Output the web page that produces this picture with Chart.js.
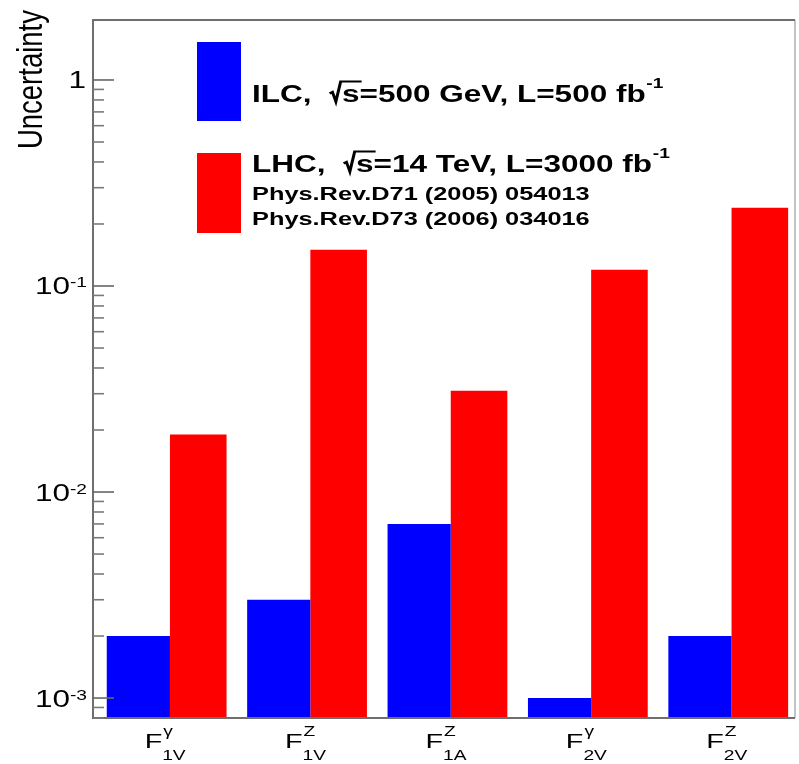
<!DOCTYPE html>
<html><head><meta charset="utf-8">
<script src="https://cdn.jsdelivr.net/npm/chart.js@4.4.1/dist/chart.umd.min.js"></script>
<style>html,body{margin:0;padding:0;background:#fff;overflow:hidden}#wrap{width:799px;height:764px;position:relative}</style>
</head><body><div id="wrap"><canvas id="c"></canvas></div>
<script>
// ---- data ----
const categoryMain = ['F', 'F', 'F', 'F', 'F'];
const categorySup  = ['γ', 'Z', 'Z', 'γ', 'Z'];
const categorySub  = ['1V', '1V', '1A', '2V', '2V'];
const ilcValues = [0.002, 0.003, 0.007, 0.001, 0.002];
const lhcValues = [0.019, 0.15, 0.031, 0.12, 0.24];
const yMajorTicks = [0.001, 0.01, 0.1, 1];
const yMajorLabels = [['10', '-3'], ['10', '-2'], ['10', '-1'], ['1', '']];
const ilcLabel = 'ILC';
const lhcLabel = 'LHC';
const lhcRefs = ['Phys.Rev.D71 (2005) 054013', 'Phys.Rev.D73 (2006) 034016'];
const yTitle = 'Uncertainty';

// ---- layout / style constants ----
const ILC_OFFSET = 0.323, LHC_OFFSET = 0.7496;
const FONT = '"Liberation Sans", Arial, Helvetica, sans-serif';
const SX = 1.37; // horizontal stretch of the reference's lettering

const ilcData = ilcValues.map((v, i) => ({x: i + ILC_OFFSET, y: v}));
const lhcData = lhcValues.map((v, i) => ({x: i + LHC_OFFSET, y: v}));

function stretchedText(ctx, text, x, y, font, align, sx) {
  ctx.save();
  ctx.font = font;
  const w = ctx.measureText(text).width * sx;
  let x0 = x;
  if (align === 'right') x0 = x - w; else if (align === 'center') x0 = x - w / 2;
  ctx.translate(x0, y);
  ctx.scale(sx, 1);
  ctx.textAlign = 'left';
  ctx.fillText(text, 0, 0);
  ctx.restore();
  return w;
}

function drawRadicalLine(ctx, x, by, sx, font, before, sVar, after, sup, supFont, supDy) {
  ctx.save();
  ctx.translate(x, by);
  ctx.scale(sx, 1);
  ctx.textAlign = 'left';
  ctx.font = font;
  let lx = 0;
  ctx.fillText(before, lx, 0);
  lx += ctx.measureText(before).width;
  const sw = ctx.measureText(sVar).width;
  ctx.lineWidth = 2.2;
  ctx.lineJoin = 'miter';
  ctx.beginPath();
  ctx.moveTo(lx + 0.5, -8);
  ctx.lineTo(lx + 2.5, -9.5);
  ctx.lineTo(lx + 5, 0);
  ctx.lineTo(lx + 8.5, -20);
  ctx.lineTo(lx + 9.5 + sw + 1.5, -20);
  ctx.stroke();
  lx += 9.5;
  ctx.fillText(sVar, lx, 0);
  lx += sw;
  ctx.fillText(after, lx, 0);
  lx += ctx.measureText(after).width;
  ctx.font = supFont;
  ctx.fillText(sup, lx + 0.5, supDy);
  ctx.restore();
}

const rootPlugin = {
  id: 'rootStyle',
  afterDraw(chart) {
    const ctx = chart.ctx;
    const ca = chart.chartArea;
    const ys = chart.scales.y, xs = chart.scales.x;
    ctx.save();
    // frame
    ctx.lineWidth = 2;
    ctx.strokeStyle = '#c4c4c4';
    ctx.beginPath(); ctx.moveTo(ca.right, ca.top); ctx.lineTo(ca.right, ca.bottom); ctx.stroke();
    ctx.strokeStyle = '#6e6e6e';
    ctx.beginPath();
    ctx.moveTo(ca.right, ca.top); ctx.lineTo(ca.left, ca.top); ctx.lineTo(ca.left, ca.bottom); ctx.lineTo(ca.right, ca.bottom);
    ctx.stroke();
    // y ticks inside the frame
    ctx.lineWidth = 1.6;
    ys.ticks.forEach(t => {
      const p = ys.getPixelForValue(t.value);
      if (p < ca.top - 0.5 || p > ca.bottom + 0.5) return;
      const major = yMajorTicks.some(m => Math.abs(m - t.value) / m < 1e-6);
      ctx.strokeStyle = major ? '#666' : '#7a7a7a';
      ctx.beginPath(); ctx.moveTo(ca.left, p); ctx.lineTo(ca.left + (major ? 21 : 11), p); ctx.stroke();
    });
    // y labels
    ctx.fillStyle = '#000';
    ctx.textBaseline = 'alphabetic';
    const mainF = '23px ' + FONT, supF = '14px ' + FONT;
    yMajorTicks.forEach((v, i) => {
      const p = ys.getPixelForValue(v);
      const [main, sup] = yMajorLabels[i];
      ctx.font = mainF;
      const w1 = ctx.measureText(main).width * SX;
      ctx.font = supF;
      const w2 = sup ? ctx.measureText(sup).width * SX : 0;
      const right = sup ? 87 : 86;
      const x0 = right - w1 - w2;
      stretchedText(ctx, main, x0, p + 8.5, mainF, 'left', SX);
      if (sup) stretchedText(ctx, sup, x0 + w1, p + 1.5, supF, 'left', SX);
    });
    // x labels
    for (let i = 0; i < categoryMain.length; i++) {
      const c = xs.getPixelForValue(i + 0.5);
      stretchedText(ctx, categoryMain[i], c - 1, 748, '21px ' + FONT, 'right', SX);
      stretchedText(ctx, categorySup[i], c, 736, '14px ' + FONT, 'left', SX);
      stretchedText(ctx, categorySub[i], c - 1, 760, '14px ' + FONT, 'left', SX);
    }
    // y title
    ctx.save();
    ctx.translate(42, 10);
    ctx.scale(1.3, 1);
    ctx.rotate(-Math.PI / 2);
    ctx.textAlign = 'right';
    ctx.font = '27.5px ' + FONT;
    ctx.fillText(yTitle, 0, 0);
    ctx.restore();
    // legend
    const bx = 197, bw = 44;
    ctx.fillStyle = chart.data.datasets[0].backgroundColor;
    ctx.fillRect(bx, 42, bw, 79);
    ctx.fillStyle = chart.data.datasets[1].backgroundColor;
    ctx.fillRect(bx, 153, bw, 80);
    ctx.fillStyle = '#000';
    ctx.strokeStyle = '#000';
    const bf = 'bold 23px ' + FONT, sf = 'bold 14px ' + FONT;
    drawRadicalLine(ctx, 252, 101.5, SX, bf, ilcLabel + ',  ', 's', '=500 GeV, L=500 fb', '-1', sf, -14);
    drawRadicalLine(ctx, 252, 171.5, SX, bf, lhcLabel + ',  ', 's', '=14 TeV, L=3000 fb', '-1', sf, -14);
    stretchedText(ctx, lhcRefs[0], 252, 200, 'bold 18.5px ' + FONT, 'left', SX);
    stretchedText(ctx, lhcRefs[1], 252, 225, 'bold 18.5px ' + FONT, 'left', SX);
    ctx.restore();
  }
};

new Chart(document.getElementById('c'), {
  type: 'bar',
  data: {
    datasets: [
      {label: ilcLabel, data: ilcData, backgroundColor: '#0000ff', borderWidth: 0, grouped: false, categoryPercentage: 1, barPercentage: 1.055},
      {label: lhcLabel, data: lhcData, backgroundColor: '#ff0000', borderWidth: 0, grouped: false, categoryPercentage: 1, barPercentage: 0.945}
    ]
  },
  options: {
    responsive: true,
    maintainAspectRatio: false,
    animation: false,
    layout: {padding: {left: 0, right: 4, top: 20, bottom: 0}},
    plugins: {legend: {display: false}, tooltip: {enabled: false}},
    scales: {
      x: {
        type: 'linear', min: 0, max: 5, offset: false,
        grid: {display: false, offset: false}, border: {display: false},
        ticks: {display: false},
        afterBuildTicks(s) { s.ticks = [0, 1, 2, 3, 4, 5].map(v => ({value: v})); },
        afterFit(s) { s.height = 46; }
      },
      y: {
        type: 'logarithmic', min: 8.0e-4, max: 1.955,
        grid: {display: false}, border: {display: false},
        ticks: {display: false},
        afterBuildTicks(s) {
          const t = [];
          for (let e = -4; e <= 0; e++) for (let m = 1; m <= 9; m++) {
            const v = m * Math.pow(10, e);
            if (v >= s.min * 0.999 && v <= s.max) t.push({value: v});
          }
          s.ticks = t;
        },
        afterFit(s) { s.width = 93; }
      }
    }
  },
  plugins: [rootPlugin]
});
</script>
</body></html>
